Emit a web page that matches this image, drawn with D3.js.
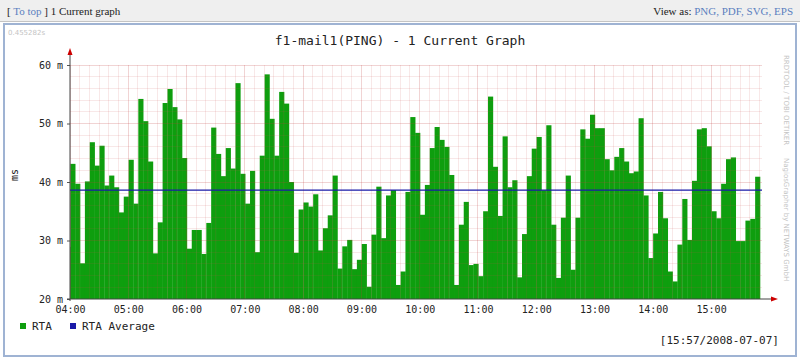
<!DOCTYPE html>
<html>
<head>
<meta charset="utf-8">
<script src="https://cdn.jsdelivr.net/npm/d3@7"></script>
<style>
body { margin: 0; background: #fff; }
</style>
</head>
<body>
<svg id="chart"></svg>
<script>
// RTA samples, one every 5 minutes (ms)
var sampleStart = "2008-07-07 04:00:20";
var stepMinutes = 5;
var rtaValues = [
    28.9, 43.1, 39.7, 26.1, 40.1, 46.8, 42.8, 46.2, 39.4, 41.1, 39.1, 34.8, 37.5, 43.8, 36.3, 54.2, 50.4, 43.5, 27.8, 33.1, 53.5, 55.9, 52.8, 50.7,
    44.1, 28.6, 31.8, 31.8, 27.7, 33.0, 49.3, 44.8, 41.0, 45.8, 42.3, 56.9, 41.4, 36.3, 41.9, 28.0, 44.5, 58.4, 50.8, 44.5, 55.4, 53.4, 40.0, 27.9, 35.3,
    36.5, 35.8, 37.9, 28.3, 32.1, 34.3, 41.1, 25.2, 29.0, 30.1, 25.1, 26.7, 29.4, 22.1, 31.0, 39.2, 30.4, 37.7, 38.6, 22.4, 24.7, 38.3, 51.1, 48.4, 34.4,
    39.5, 45.8, 49.4, 47.2, 46.0, 41.2, 22.4, 32.7, 36.6, 25.8, 26.0, 23.9, 35.0, 54.6, 42.6, 34.2, 47.8, 39.1, 40.3, 23.7, 31.1, 41.0, 45.7, 47.7, 38.6,
    49.7, 32.7, 23.6, 33.9, 41.1, 25.0, 33.9, 49.0, 47.4, 51.5, 49.2, 49.2, 43.9, 42.0, 44.3, 45.8, 43.5, 41.5, 41.8, 50.9, 37.7, 27.0, 31.2, 38.3, 33.8,
    24.7, 23.0, 29.3, 37.1, 30.1, 40.2, 49.0, 49.2, 46.1, 35.0, 33.8, 39.7, 43.9, 44.2, 29.9, 29.9, 33.4, 33.7, 40.9
];
var rtaAverage = 38.6;

var graphTitle = "f1-mail1(PING) - 1 Current Graph";
var graphStart = "2008-07-07 04:00:00";
var yTicks = [20, 30, 40, 50, 60];
var legendItems = ["RTA", "RTA Average"];
var stampText = "[15:57/2008-07-07]";

var mono = "'DejaVu Sans Mono', monospace";
var serif = "'Liberation Serif', 'DejaVu Serif', serif";

var svg = d3.select("#chart").attr("width", 800).attr("height", 360);

// page header
svg.append("rect").attr("x", 0).attr("y", 0).attr("width", 800).attr("height", 21).attr("fill", "#efefef");
svg.append("line").attr("x1", 0).attr("x2", 800).attr("y1", 21.5).attr("y2", 21.5).attr("stroke", "#c4c4c4");

var leftHead = svg.append("text").attr("x", 7).attr("y", 15)
    .attr("font-family", serif).attr("font-size", "11px").attr("fill", "#222");
leftHead.append("tspan").text("[ ");
leftHead.append("tspan").attr("fill", "#5b7fc0").text("To top");
leftHead.append("tspan").text(" ] 1 Current graph");

var rightHead = svg.append("text").attr("x", 793).attr("y", 15).attr("text-anchor", "end")
    .attr("font-family", serif).attr("font-size", "11px").attr("fill", "#222");
rightHead.append("tspan").text("View as: ");
rightHead.append("tspan").attr("fill", "#5b7fc0").text("PNG, PDF, SVG, EPS");

// graph frame
svg.append("rect").attr("x", 4).attr("y", 24).attr("width", 792).attr("height", 332)
    .attr("fill", "#fff").attr("stroke", "#9fb3d3").attr("stroke-width", 2);

svg.append("text").attr("x", 8).attr("y", 35).attr("font-family", "'DejaVu Sans', sans-serif")
    .attr("font-size", "7px").attr("fill", "#c4c4c4").text("0.455282s");

svg.append("text").attr("x", 400).attr("y", 45).attr("text-anchor", "middle")
    .attr("font-family", mono).attr("font-size", "13px").attr("fill", "#222").text(graphTitle);

// scales
var parseTime = d3.timeParse("%Y-%m-%d %H:%M:%S");
var t0 = parseTime(graphStart);
var firstEnd = parseTime(sampleStart);
var stepMs = stepMinutes * 60 * 1000;
var samples = rtaValues.map(function(v, i) {
    var end = new Date(firstEnd.getTime() + i * stepMs);
    var start = new Date(Math.max(t0.getTime(), end.getTime() - stepMs));
    return { start: start, end: end, value: v };
});
var tEnd = samples[samples.length - 1].end;

var plotLeft = 70, plotRight = 760, plotTop = 65, plotBottom = 299;
var xScale = d3.scaleTime().domain([t0, tEnd]).range([plotLeft, plotRight]);
var yScale = d3.scaleLinear().domain([20, 60]).range([plotBottom, plotTop]);

// bars (RTA area)
svg.append("g").selectAll("rect")
    .data(samples)
    .enter().append("rect")
    .attr("x", function(d) { return xScale(d.start); })
    .attr("width", function(d) { return xScale(d.end) - xScale(d.start) + 0.3; })
    .attr("y", function(d) { return yScale(d.value); })
    .attr("height", function(d) { return yScale(20) - yScale(d.value); })
    .attr("fill", "#0e9e0e");

// grid on top of the area, like rrdtool
var majorGrid = "rgba(190,60,60,0.22)";
var minorGrid = "rgba(200,80,80,0.13)";
var grid = svg.append("g").attr("shape-rendering", "crispEdges");
var minorX = d3.timeMinute.every(10).range(t0, tEnd);
grid.selectAll(".vminor").data(minorX).enter().append("line")
    .attr("x1", function(d) { return xScale(d); }).attr("x2", function(d) { return xScale(d); })
    .attr("y1", plotTop).attr("y2", plotBottom)
    .attr("stroke", function(d) { return d.getMinutes() == 0 ? majorGrid : minorGrid; });

var minorY = d3.range(22, 61, 2);
grid.selectAll(".hminor").data(minorY).enter().append("line")
    .attr("x1", plotLeft).attr("x2", plotRight + 2)
    .attr("y1", function(d) { return yScale(d); }).attr("y2", function(d) { return yScale(d); })
    .attr("stroke", function(d) { return d % 10 == 0 ? majorGrid : minorGrid; });

// average line
svg.append("line")
    .attr("x1", plotLeft).attr("x2", plotRight + 2)
    .attr("y1", yScale(rtaAverage)).attr("y2", yScale(rtaAverage))
    .attr("stroke", "#1a1aa8").attr("stroke-width", 1.2);

// axes
var yAxis = svg.append("g")
    .attr("transform", "translate(" + plotLeft + ",0)")
    .call(d3.axisLeft(yScale).tickValues(yTicks).tickSize(3).tickPadding(4)
        .tickFormat(function(d) { return d + " m"; }));
yAxis.select(".domain").remove();
yAxis.selectAll("text").attr("font-family", mono).attr("font-size", "10px").attr("fill", "#222");
yAxis.selectAll("line").attr("stroke", "#555");

var xAxis = svg.append("g")
    .attr("transform", "translate(0," + plotBottom + ")")
    .call(d3.axisBottom(xScale).ticks(d3.timeHour.every(1)).tickSize(0).tickPadding(7)
        .tickFormat(d3.timeFormat("%H:%M")));
xAxis.select(".domain").remove();
xAxis.selectAll("text").attr("font-family", mono).attr("font-size", "10px").attr("fill", "#222");

svg.append("line").attr("x1", plotLeft).attr("x2", plotLeft).attr("y1", plotBottom + 2).attr("y2", 52)
    .attr("stroke", "#444");
svg.append("line").attr("x1", plotLeft - 3).attr("x2", 773).attr("y1", plotBottom).attr("y2", plotBottom)
    .attr("stroke", "#444");
svg.append("path").attr("d", "M" + (plotLeft - 2.5) + ",55 L" + plotLeft + ",48 L" + (plotLeft + 2.5) + ",55 Z").attr("fill", "#c00");
svg.append("path").attr("d", "M771," + (plotBottom - 2.5) + " L778," + plotBottom + " L771," + (plotBottom + 2.5) + " Z").attr("fill", "#c00");

svg.append("text").attr("transform", "translate(18,175) rotate(-90)").attr("text-anchor", "middle")
    .attr("font-family", mono).attr("font-size", "10px").attr("fill", "#222").text("ms");

// legend
var legendColors = ["#0e9e0e", "#1a1aa8"];
var legendX = [20, 70];
legendItems.forEach(function(name, i) {
    svg.append("rect").attr("x", legendX[i]).attr("y", 323).attr("width", 6).attr("height", 6)
        .attr("fill", legendColors[i]);
    svg.append("text").attr("x", legendX[i] + 12).attr("y", 330)
        .attr("font-family", mono).attr("font-size", "11px").attr("fill", "#222").text(name);
});

svg.append("text").attr("x", 779).attr("y", 344).attr("text-anchor", "end")
    .attr("font-family", mono).attr("font-size", "11px").attr("fill", "#222").text(stampText);

// rrdtool credits down the right edge
svg.append("text").attr("transform", "translate(784,55) rotate(90)")
    .attr("font-family", "'DejaVu Sans', sans-serif").attr("font-size", "7px").attr("fill", "#c4c4c4")
    .text("RRDTOOL / TOBI OETIKER");
svg.append("text").attr("transform", "translate(784,158) rotate(90)")
    .attr("font-family", "'DejaVu Sans', sans-serif").attr("font-size", "7px").attr("fill", "#c4c4c4")
    .text("NagiosGrapher by NETWAYS GmbH");
</script>
</body>
</html>
